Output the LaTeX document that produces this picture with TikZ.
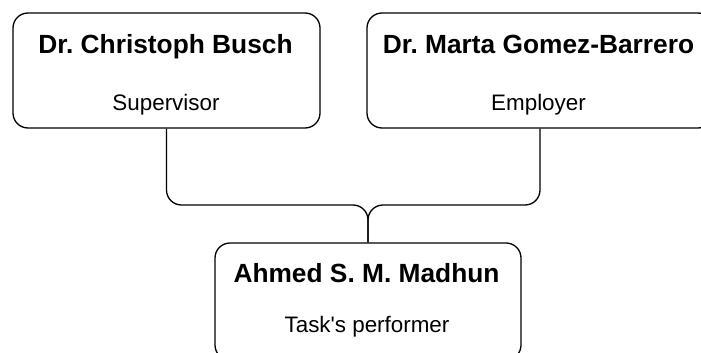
\documentclass[tikz,border=0pt]{standalone}
\usepackage{fontspec}
\setmainfont{Liberation Sans}
\frenchspacing
\begin{document}
\begin{tikzpicture}[x=1pt,y=-1pt,
  personbox/.style={draw=black,line width=1.3pt,rounded corners=15pt,
    minimum width=#1,minimum height=115pt,inner sep=0pt},
  nametext/.style={anchor=base,inner sep=0pt,
    font=\bfseries\fontsize{26.3}{30}\selectfont},
  roletext/.style={anchor=base,inner sep=0pt,
    font=\fontsize{22.4}{26}\selectfont},
  link/.style={draw=black,line width=1.3pt,rounded corners=15pt}]
\clip (0,0) rectangle (701,353);
\useasboundingbox (0,0) rectangle (701,353);

% people boxes
\node[personbox=307pt] (busch) at (166.5,70.5) {};
\node[personbox=346pt] (gomez) at (540,70.5) {};
\node[personbox=306pt,minimum height=117pt] (madhun) at (368,301.5) {};

% names and roles
\node[nametext] (buschname) at (165.5,53) {Dr. Christoph Busch};
\node[roletext] (buschrole) at (166,110) {Supervisor};
\node[nametext] (gomezname) at (538.5,53) {Dr. Marta Gomez-Barrero};
\node[roletext] (gomezrole) at (538.5,110) {Employer};
\node[nametext] (madhunname) at (366.5,282) {Ahmed S. M. Madhun};
\node[roletext] (madhunrole) at (367,332) {Task\textquotesingle s performer};

% connectors joining above the performer
\coordinate (join) at (368,205);
\draw[link] (busch.south) |- (join) -- (madhun.north);
\draw[link] (gomez.south) |- (join) -- (madhun.north);
\end{tikzpicture}
\end{document}
